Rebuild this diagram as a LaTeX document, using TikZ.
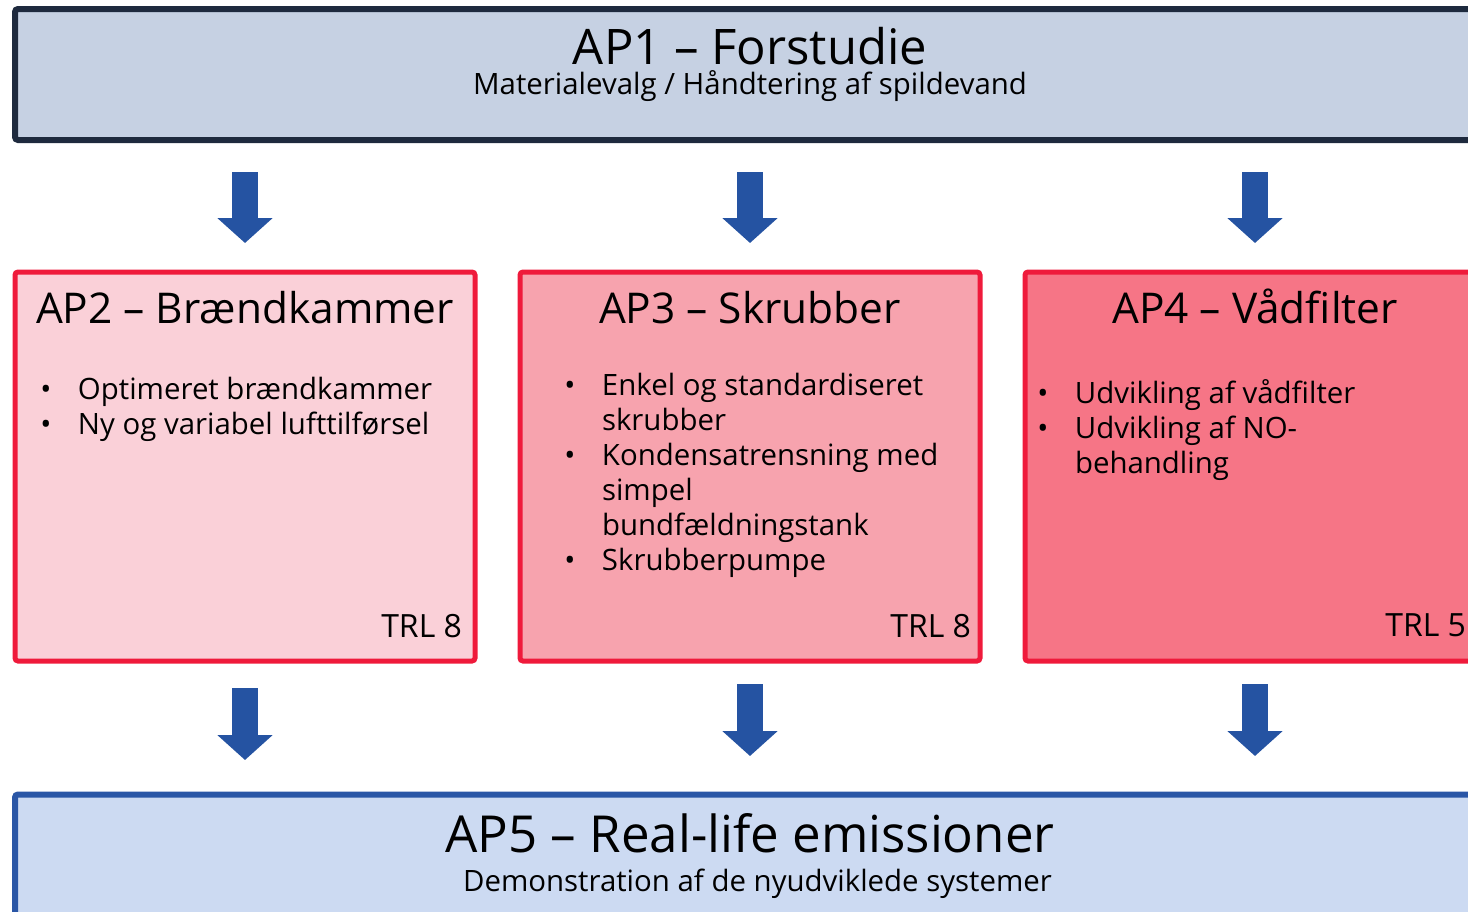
\documentclass[tikz,border=0pt]{standalone}
\usepackage{fontspec}
\setmainfont{Open Sans}
\usetikzlibrary{arrows.meta,positioning}
\definecolor{cNavy}{HTML}{1E2A3E}
\definecolor{cGrey}{HTML}{C6D1E3}
\definecolor{cRed}{HTML}{EF1A3B}
\definecolor{cPinkA}{HTML}{FAD0D8}
\definecolor{cPinkB}{HTML}{F7A3AE}
\definecolor{cPinkC}{HTML}{F67586}
\definecolor{cBlue}{HTML}{2A56A6}
\definecolor{cSky}{HTML}{CCDAF2}
\definecolor{cArr}{HTML}{2553A2}

\newcommand{\bul}{\makebox[0pt][c]{•}\hspace*{16pt}}
\newcommand{\cnt}{\hspace*{16pt}}

\begin{document}
\begin{tikzpicture}[x=0.5pt, y=-0.5pt,
    every node/.style={inner sep=0pt, outer sep=0pt},
    band/.style={draw, rounded corners=1.5pt, line width=3pt, minimum width=735pt},
    wp/.style  ={draw=cRed, rounded corners=1.5pt, line width=2.5pt,
                 minimum width=230pt, minimum height=194.5pt},
    ttl/.style ={anchor=base, font=\fontsize{21.2}{25}\selectfont},
    lst/.style ={anchor=base west, align=left, font=\fontsize{14.7}{17.5}\selectfont},
    trl/.style ={anchor=base east, font=\fontsize{16}{19}\selectfont},
    blk/.style ={-{Triangle[length=12.5pt,width=27pt]}, draw=cArr, line width=13pt},
    dn1/.style ={blk, shorten <=16pt, shorten >=14.5pt},
    dn2/.style ={blk, shorten <=11.5pt, shorten >=19.25pt}]

\useasboundingbox (0,0) rectangle (1468,911);
\clip (0,0) rectangle (1468,911);

% -- top band --------------------------------------------------------------
\node[band, draw=cNavy, fill=cGrey, minimum height=65.5pt] (ap1) at (750,74.5) {};
\node[anchor=base, font=\fontsize{24.5}{29}\selectfont] (ap1t) at ([yshift=-27.5pt]ap1.north)
  {AP1 – Forstudie};
\node[anchor=base, font=\fontsize{14.7}{18}\selectfont] (ap1s) at ([yshift=-42.5pt]ap1.north)
  {Materialevalg / Håndtering af spildevand};

% -- work packages ---------------------------------------------------------
\node[wp, fill=cPinkA] (ap2) at (245,466.5) {};
\node[wp, fill=cPinkB] (ap3) at (750,466.5) {};
\node[wp, fill=cPinkC] (ap4) at (1255,466.5) {};

\node[ttl] (ap2t) at ([yshift=-25.5pt]ap2.north) {AP2 – Brændkammer};
\node[ttl] (ap3t) at ([yshift=-25.5pt]ap3.north) {AP3 – Skrubber};
\node[ttl] (ap4t) at ([yshift=-25.5pt]ap4.north) {AP4 – Vådfilter};

% base of a list = baseline of its last line
\node[lst] (ap2l) at ([xshift=15.5pt, yshift=-81pt]ap2.north west)
  {\bul Optimeret brændkammer\\\bul Ny og variabel lufttilførsel};
\node[lst] (ap3l) at ([xshift=25pt, yshift=-149pt]ap3.north west)
  {\bul Enkel og standardiseret\\\cnt skrubber\\\bul Kondensatrensning med\\\cnt simpel\\
   \cnt bundfældningstank\\\bul Skrubberpumpe};
\node[lst] (ap4l) at ([xshift=9pt, yshift=-100.5pt]ap4.north west)
  {\bul Udvikling af vådfilter\\\bul Udvikling af NO-\\\cnt behandling};

\node[trl] (ap2r) at ([xshift=-6.5pt, yshift=12pt]ap2.south east) {TRL 8};
\node[trl] (ap3r) at ([xshift=-4.5pt, yshift=12pt]ap3.south east) {TRL 8};
\node[trl] (ap4r) at ([xshift=-9.5pt, yshift=12.5pt]ap4.south east) {TRL 5};

% -- bottom band -----------------------------------------------------------
\node[band, draw=cBlue, fill=cSky, minimum height=100pt] (ap5) at (750,894.5) {};
\node[anchor=base, font=\fontsize{25.5}{30}\selectfont] (ap5t) at ([yshift=-28.75pt]ap5.north)
  {AP5 – Real-life emissioner};
\node[anchor=base, font=\fontsize{14.7}{18}\selectfont] (ap5s) at ([xshift=3.75pt, yshift=-48.5pt]ap5.north)
  {Demonstration af de nyudviklede systemer};

% -- block arrows ----------------------------------------------------------
\draw[dn1] (ap1.south -| ap2.north) -- (ap2.north);
\draw[dn1] (ap1.south -| ap3.north) -- (ap3.north);
\draw[dn1] (ap1.south -| ap4.north) -- (ap4.north);
\draw[dn2, shorten <=13.5pt, shorten >=17.25pt] (ap2.south) -- (ap5.north -| ap2.south);
\draw[dn2] (ap3.south) -- (ap5.north -| ap3.south);
\draw[dn2] (ap4.south) -- (ap5.north -| ap4.south);
\end{tikzpicture}
\end{document}
